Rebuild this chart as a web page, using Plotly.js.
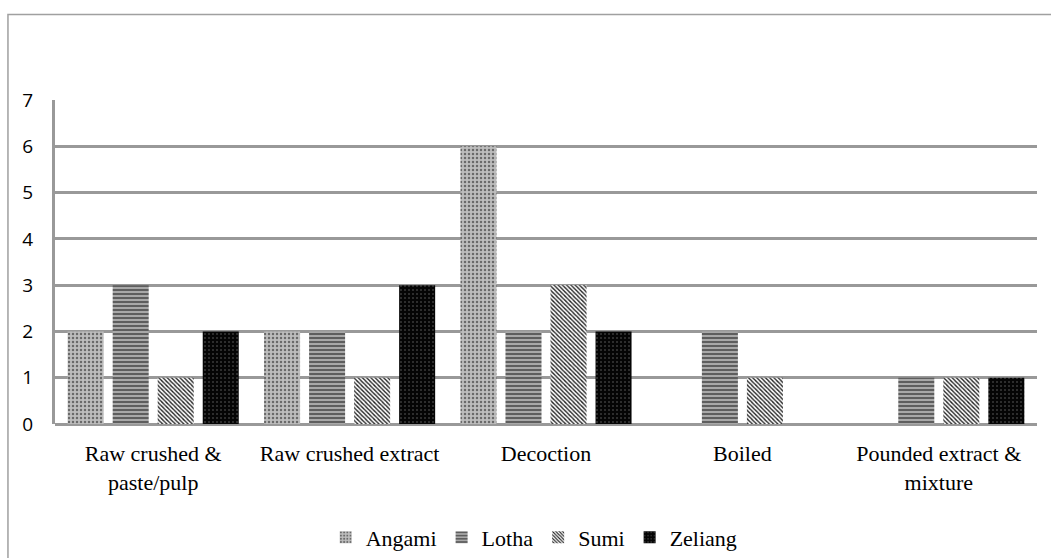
<!DOCTYPE html>
<html>
<head>
<meta charset="utf-8">
<script src="https://cdn.plot.ly/plotly-3.0.1.min.js"></script>
<style>html,body{margin:0;padding:0;background:#fff;}#chart{width:1051px;height:558px;}</style>
</head>
<body>
<div id="chart"></div>
<script>
const categories = ["Raw crushed &<br>paste/pulp", "Raw crushed extract", "Decoction", "Boiled", "Pounded extract &<br>mixture"];
const seriesNames = ["Angami", "Lotha", "Sumi", "Zeliang"];
const angami = [2, 2, 6, 0, 0];
const lotha = [3, 2, 2, 2, 1];
const sumi = [1, 1, 3, 1, 1];
const zeliang = [2, 3, 2, 0, 1];
const yTicks = [0, 1, 2, 3, 4, 5, 6, 7];

const styles = [
  {bg: "#bdbdbd", fg: "#6a6a6a", shape: ".", size: 4, solidity: 0.3},
  {bg: "#a8a8a8", fg: "#5e5e5e", shape: "-", size: 4, solidity: 0.5},
  {bg: "#ffffff", fg: "#222222", shape: "\\", size: 3, solidity: 0.45},
  {bg: "#050505", fg: "#3a3a3a", shape: ".", size: 4, solidity: 0.2}
];
const values = [angami, lotha, sumi, zeliang];

const data = seriesNames.map((name, i) => ({
  type: "bar",
  name: name,
  x: categories,
  y: values[i],
  marker: {
    color: styles[i].bg,
    line: {width: 0},
    pattern: {shape: styles[i].shape, fillmode: "replace", bgcolor: styles[i].bg, fgcolor: styles[i].fg, size: styles[i].size, solidity: styles[i].solidity}
  },
  hoverinfo: "x+y+name"
}));

const layout = {
  width: 1051,
  height: 558,
  margin: {l: 55, r: 14, t: 100, b: 134, autoexpand: false},
  paper_bgcolor: "#ffffff",
  plot_bgcolor: "#ffffff",
  barmode: "group",
  bargap: 0.083,
  bargroupgap: 0.2,
  showlegend: true,
  legend: {
    orientation: "h",
    x: 0.488, xanchor: "center",
    y: -0.35, yanchor: "middle",
    font: {family: "Liberation Serif", size: 22, color: "#000"},
    itemwidth: 30,
    tracegroupgap: 0,
    traceorder: "normal"
  },
  xaxis: {
    type: "category",
    automargin: false,
    tickfont: {family: "Liberation Serif", size: 22, color: "#000"},
    showgrid: false,
    showline: false,
    zeroline: false,
    ticks: "",
    ticklabelstandoff: 14,
    fixedrange: true
  },
  yaxis: {
    range: [0, 7],
    automargin: false,
    tickvals: yTicks,
    ticktext: yTicks.map(String),
    tickfont: {family: "Open Sans", size: 19, color: "#000"},
    showgrid: true,
    gridcolor: "#999999",
    gridwidth: 3,
    zeroline: true,
    zerolinecolor: "#999999",
    zerolinewidth: 3,
    showline: true,
    linecolor: "#999999",
    linewidth: 3,
    ticks: "",
    ticklabelstandoff: 15,
    fixedrange: true
  },
  shapes: [
    {type: "rect", xref: "paper", yref: "paper", x0: -0.0479, x1: 1.05, y0: -0.5, y1: 1.264,
     line: {color: "#a0a0a0", width: 1.5}, fillcolor: "rgba(0,0,0,0)", layer: "below"}
  ]
};

Plotly.newPlot("chart", data, layout, {displayModeBar: false, staticPlot: true});
</script>
</body>
</html>
